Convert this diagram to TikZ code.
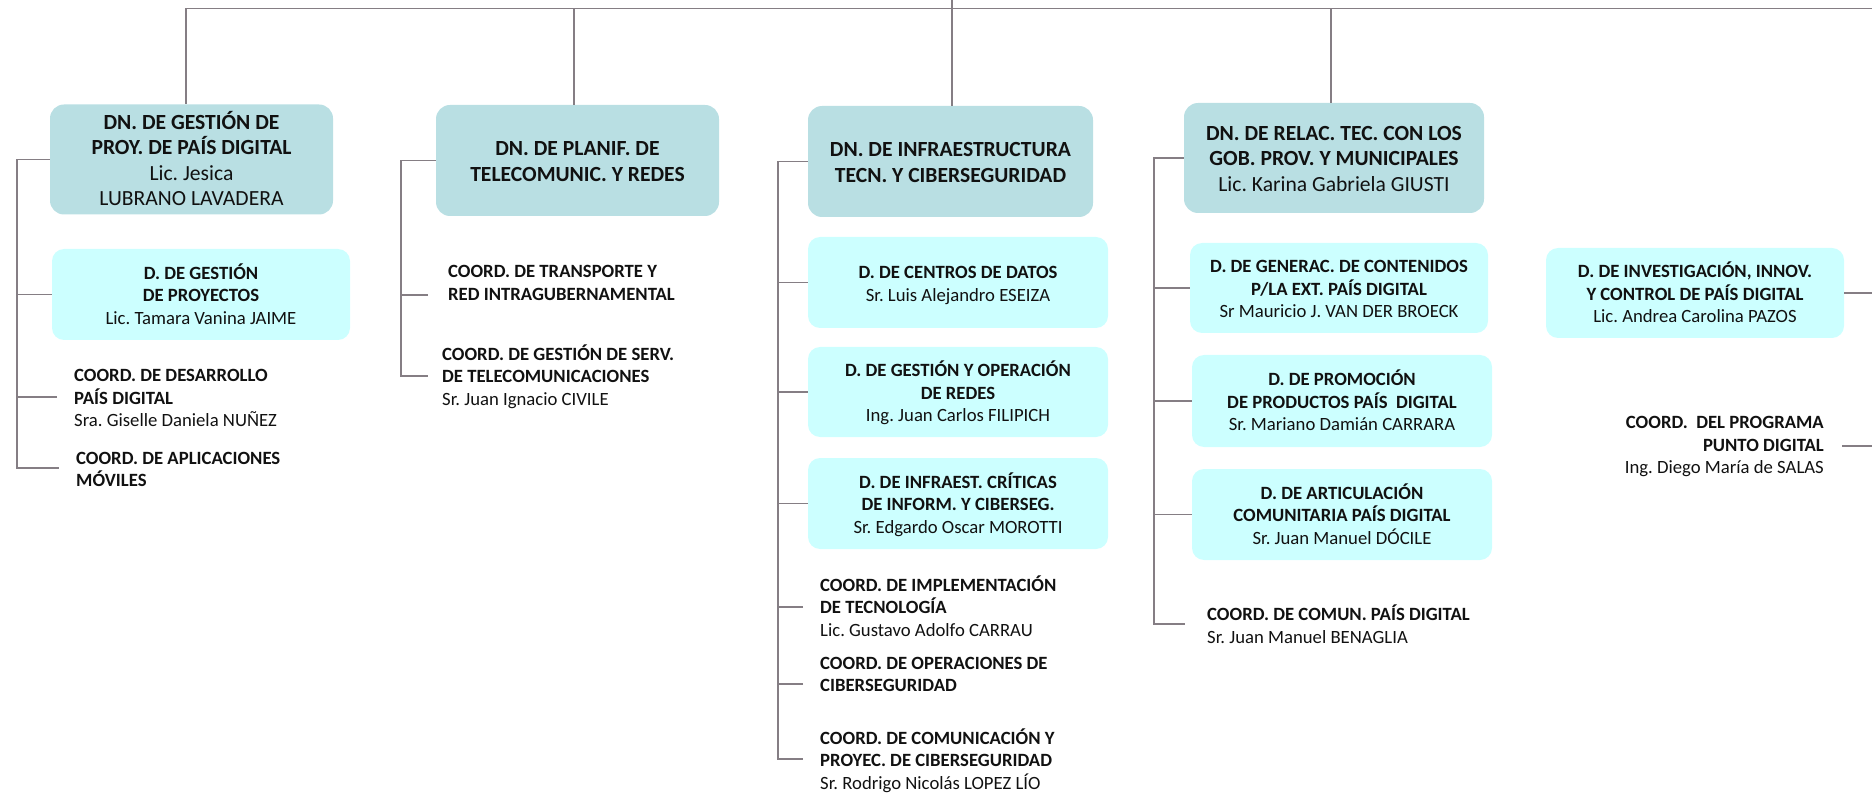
\documentclass[tikz,border=0pt]{standalone}
\usepackage{fontspec}
\setmainfont{Carlito}
\definecolor{dnC}{HTML}{B9DFE3}
\definecolor{dC}{HTML}{CCFFFF}
\definecolor{lnC}{HTML}{857E84}
\definecolor{txC}{HTML}{111111}
% struts placed inside the first / last line of each text
\newcommand\nT{\rule{0pt}{23pt}}
\newcommand\nB{\rule[-7pt]{0pt}{0pt}}
\newcommand\dT{\rule{0pt}{21pt}}
\newcommand\dB{\rule[-6.2pt]{0pt}{0pt}}
\newcommand\cT{\rule{0pt}{19pt}}
\newcommand\cB{\rule[-7.2pt]{0pt}{0pt}}
\begin{document}
\frenchspacing
\begin{tikzpicture}[x=1pt,y=-1pt,
 ln/.style={draw=lnC,line width=1.9pt},
 fdn/.style={font=\fontsize{21.6}{25.5}\selectfont\frenchspacing},
 fd/.style={font=\fontsize{18.7}{22.5}\selectfont\frenchspacing},
 dnbox/.style={fill=dnC, rounded corners=14pt, align=center, inner sep=0pt, text=txC, fdn},
 dbox/.style={fill=dC, rounded corners=12pt, align=center, inner sep=0pt, text=txC, fd},
 txt/.style={align=left, inner sep=0pt, anchor=west, text=txC, fd},
 txtr/.style={align=right, inner sep=0pt, anchor=east, text=txC, fd},
]
\useasboundingbox (0,0) rectangle (1872,794);

% ---------- column 1
\node[dnbox, minimum width=283, minimum height=110] (p1) at (191.5,159.5)
 {\nT\textbf{DN. DE GESTIÓN DE}\\\textbf{PROY. DE PAÍS DIGITAL}\\Lic. Jesica\\LUBRANO LAVADERA\nB};
\node[dbox, minimum width=298, minimum height=91] (d1) at (201,294.5)
 {\dT\textbf{D. DE GESTIÓN}\\\textbf{DE PROYECTOS}\\Lic. Tamara Vanina JAIME\dB};
\node[txt] (t1a) at (74,398.5)
 {\cT\textbf{COORD. DE DESARROLLO}\\\textbf{PAÍS DIGITAL}\\Sra. Giselle Daniela NUÑEZ\cB};
\node[txt] (t1b) at (76,469.5)
 {\cT\textbf{COORD. DE APLICACIONES}\\\textbf{MÓVILES}\cB};

% ---------- column 2
\node[dnbox, minimum width=283, minimum height=111] (p2) at (577.5,160.5)
 {\nT\textbf{DN. DE PLANIF. DE}\\\textbf{TELECOMUNIC. Y REDES}\nB};
\node[txt] (t2a) at (448,283)
 {\cT\textbf{COORD. DE TRANSPORTE Y}\\\textbf{RED INTRAGUBERNAMENTAL}\cB};
\node[txt] (t2b) at (442,377)
 {\cT\textbf{COORD. DE GESTIÓN DE SERV.}\\\textbf{DE TELECOMUNICACIONES}\\Sr. Juan Ignacio CIVILE\cB};

% ---------- column 3
\node[dnbox, minimum width=285, minimum height=111] (p3) at (950.5,161.5)
 {\nT\textbf{DN. DE INFRAESTRUCTURA}\\\textbf{TECN. Y CIBERSEGURIDAD}\nB};
\node[dbox, minimum width=300, minimum height=91] (d5) at (958,282.5)
 {\dT\textbf{D. DE CENTROS DE DATOS}\\Sr. Luis Alejandro ESEIZA\dB};
\node[dbox, minimum width=300, minimum height=90] (d6) at (958,392)
 {\dT\textbf{D. DE GESTIÓN Y OPERACIÓN}\\\textbf{DE REDES}\\Ing. Juan Carlos FILIPICH\dB};
\node[dbox, minimum width=300, minimum height=91] (d7) at (958,503.5)
 {\dT\textbf{D. DE INFRAEST. CRÍTICAS}\\\textbf{DE INFORM. Y CIBERSEG.}\\Sr. Edgardo Oscar MOROTTI\dB};
\node[txt] (t3a) at (820,608)
 {\cT\textbf{COORD. DE IMPLEMENTACIÓN}\\\textbf{DE TECNOLOGÍA}\\Lic. Gustavo Adolfo CARRAU\cB};
\node[txt] (t3b) at (820,674.5)
 {\cT\textbf{COORD. DE OPERACIONES DE}\\\textbf{CIBERSEGURIDAD}\cB};
\node[txt] (t3c) at (820,761)
 {\cT\textbf{COORD. DE COMUNICACIÓN Y}\\\textbf{PROYEC. DE CIBERSEGURIDAD}\\Sr. Rodrigo Nicolás LOPEZ LÍO\cB};

% ---------- column 4
\node[dnbox, minimum width=300, minimum height=110] (p4) at (1334,158)
 {\nT\textbf{DN. DE RELAC. TEC. CON LOS}\\\textbf{GOB. PROV. Y MUNICIPALES}\\Lic. Karina Gabriela GIUSTI\nB};
\node[dbox, minimum width=298, minimum height=90] (d9) at (1339,288)
 {\dT\textbf{D. DE GENERAC. DE CONTENIDOS}\\\textbf{P/LA EXT. PAÍS DIGITAL}\\Sr Mauricio J. VAN DER BROECK\dB};
\node[dbox, minimum width=300, minimum height=92] (d10) at (1342,401)
 {\dT\textbf{D. DE PROMOCIÓN}\\\textbf{DE PRODUCTOS PAÍS\ \ DIGITAL}\\Sr. Mariano Damián CARRARA\dB};
\node[dbox, minimum width=300, minimum height=91] (d11) at (1342,514.5)
 {\dT\textbf{D. DE ARTICULACIÓN}\\\textbf{COMUNITARIA PAÍS DIGITAL}\\Sr. Juan Manuel DÓCILE\dB};
\node[txt] (t4a) at (1207,626)
 {\cT\textbf{COORD. DE COMUN. PAÍS DIGITAL}\\Sr. Juan Manuel BENAGLIA\cB};

% ---------- column 5
\node[dbox, minimum width=298, minimum height=90] (d12) at (1695,293)
 {\dT\textbf{D. DE INVESTIGACIÓN, INNOV.}\\\textbf{Y CONTROL DE PAÍS DIGITAL}\\Lic. Andrea Carolina PAZOS\dB};
\node[txtr] (t5a) at (1824,445.5)
 {\cT\textbf{COORD.\ \ DEL PROGRAMA}\\\textbf{PUNTO DIGITAL}\\Ing. Diego María de SALAS\cB};

% ---------- coordinates
\coordinate (v1) at (186,8.5);
\coordinate (v2) at (574,8.5);
\coordinate (v3) at (952,0);
\coordinate (v4) at (1331,8.5);
\coordinate (topR) at (1872,8.5);
\coordinate (b1) at (17,468);
\coordinate (s1a) at (57,397);
\coordinate (s1b) at (59,468);
\coordinate (b2) at (401,376);
\coordinate (s2a) at (428,295);
\coordinate (s2b) at (428,376);
\coordinate (b3) at (778,759);
\coordinate (s3a) at (803,607);
\coordinate (s3b) at (803,684);
\coordinate (s3c) at (803,759);
\coordinate (b4) at (1154,624);
\coordinate (s4a) at (1185,624);
\coordinate (r5a) at (1872,294);
\coordinate (s5a) at (1842,446);
\coordinate (r5b) at (1872,446);

% ---------- connectors
\draw[ln] (v1) -- (topR);
\draw[ln] (v1) -- (v1 |- p1.north);
\draw[ln] (v2) -- (v2 |- p2.north);
\draw[ln] (v3) -- (v3 |- p3.north);
\draw[ln] (v4) -- (v4 |- p4.north);

\draw[ln] (p1.west) -| (b1) -- (s1b);
\draw[ln] (d1.west) -- (d1.west -| b1);
\draw[ln] (s1a) -- (s1a -| b1);

\draw[ln] (p2.west) -| (b2) -- (s2b);
\draw[ln] (s2a) -- (s2a -| b2);

\draw[ln] (p3.west) -| (b3) -- (s3c);
\draw[ln] (d5.west) -- (d5.west -| b3);
\draw[ln] (d6.west) -- (d6.west -| b3);
\draw[ln] (d7.west) -- (d7.west -| b3);
\draw[ln] (s3a) -- (s3a -| b3);
\draw[ln] (s3b) -- (s3b -| b3);

\draw[ln] (p4.west) -| (b4) -- (s4a);
\draw[ln] (d9.west) -- (d9.west -| b4);
\draw[ln] (d10.west) -- (d10.west -| b4);
\draw[ln] (d11.west) -- (d11.west -| b4);

\draw[ln] (d12.east) -- (d12.east -| r5a);
\draw[ln] (s5a) -- (r5b);
\end{tikzpicture}
\end{document}
